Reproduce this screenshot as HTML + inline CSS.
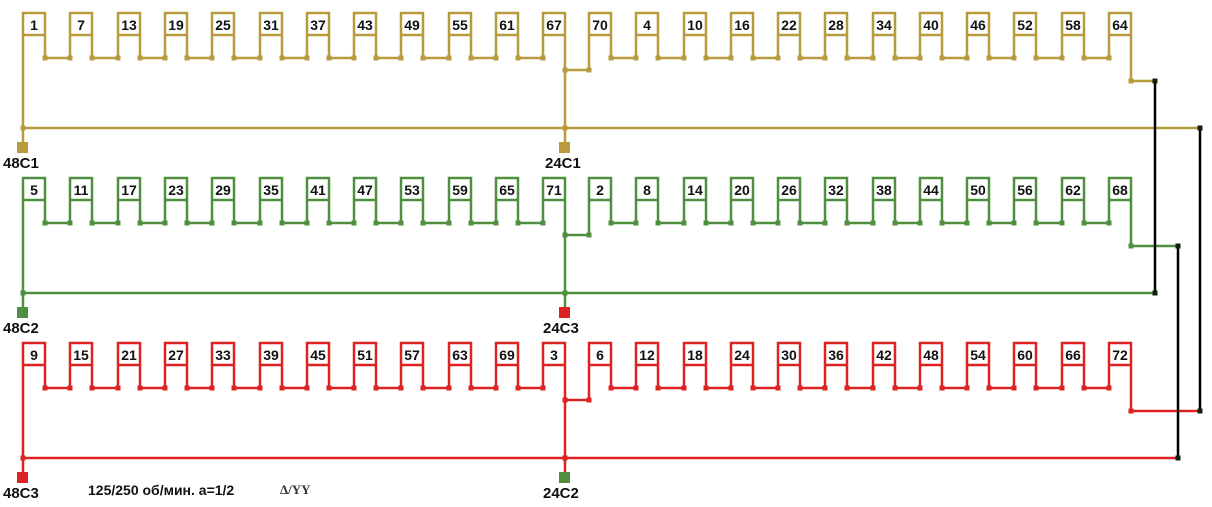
<!DOCTYPE html>
<html><head><meta charset="utf-8"><style>
html,body{margin:0;padding:0;background:#fff;width:1212px;height:507px;overflow:hidden}
svg{display:block}
text{font-family:"Liberation Sans",sans-serif;font-weight:bold}
</style></head><body>
<svg width="1212" height="507" viewBox="0 0 1212 507" xmlns="http://www.w3.org/2000/svg">
<defs>
<marker id="dg" markerUnits="userSpaceOnUse" markerWidth="5" markerHeight="5" refX="2.5" refY="2.5"><rect width="5" height="5" fill="#b89b3c"/></marker>
<marker id="dn" markerUnits="userSpaceOnUse" markerWidth="5" markerHeight="5" refX="2.5" refY="2.5"><rect width="5" height="5" fill="#4f8f3f"/></marker>
<marker id="dr" markerUnits="userSpaceOnUse" markerWidth="5" markerHeight="5" refX="2.5" refY="2.5"><rect width="5" height="5" fill="#dd2222"/></marker>
<marker id="dk" markerUnits="userSpaceOnUse" markerWidth="5" markerHeight="5" refX="2.5" refY="2.5"><rect width="5" height="5" fill="#102010"/></marker>
<g id="wind" fill="none" stroke-width="2.5">
<path d="M23 142 V13 H45 V58 H70 V13 H92 V58 H118 V13 H140 V58 H165 V13 H187 V58 H212 V13 H234 V58 H260 V13 H282 V58 H307 V13 H329 V58 H354 V13 H376 V58 H401 V13 H423 V58 H449 V13 H471 V58 H496 V13 H518 V58 H543 V13 H565 V142"/>
<path d="M565 70 H589 V13 H611 V58 H636 V13 H658 V58 H684 V13 H706 V58 H731 V13 H753 V58 H778 V13 H800 V58 H825 V13 H847 V58 H873 V13 H895 V58 H920 V13 H942 V58 H967 V13 H989 V58 H1014 V13 H1036 V58 H1062 V13 H1084 V58 H1109 V13 H1131 V81"/>
<path d="M23 35 H45 M70 35 H92 M118 35 H140 M165 35 H187 M212 35 H234 M260 35 H282 M307 35 H329 M354 35 H376 M401 35 H423 M449 35 H471 M496 35 H518 M543 35 H565 M589 35 H611 M636 35 H658 M684 35 H706 M731 35 H753 M778 35 H800 M825 35 H847 M873 35 H895 M920 35 H942 M967 35 H989 M1014 35 H1036 M1062 35 H1084 M1109 35 H1131"/>
</g>
<path id="dots" fill="none" stroke="none" d="M45 58 L70 58 L92 58 L118 58 L140 58 L165 58 L187 58 L212 58 L234 58 L260 58 L282 58 L307 58 L329 58 L354 58 L376 58 L401 58 L423 58 L449 58 L471 58 L496 58 L518 58 L543 58 M565 70 L589 70 M611 58 L636 58 L658 58 L684 58 L706 58 L731 58 L753 58 L778 58 L800 58 L825 58 L847 58 L873 58 L895 58 L920 58 L942 58 L967 58 L989 58 L1014 58 L1036 58 L1062 58 L1084 58 L1109 58 M1131 81 M23 128 M565 128"/>
</defs>

<g stroke="#b89b3c"><use href="#wind"/></g>
<use href="#dots" marker-start="url(#dg)" marker-mid="url(#dg)" marker-end="url(#dg)"/>
<g transform="translate(0,165)"><g stroke="#4f8f3f"><use href="#wind"/></g>
<use href="#dots" marker-start="url(#dn)" marker-mid="url(#dn)" marker-end="url(#dn)"/></g>
<g transform="translate(0,330)"><g stroke="#dd2222"><use href="#wind"/></g>
<use href="#dots" marker-start="url(#dr)" marker-mid="url(#dr)" marker-end="url(#dr)"/></g>

<g fill="none" stroke-width="2.5">
<path d="M23 128 H1200" stroke="#b89b3c"/>
<path d="M1131 81 H1155" stroke="#b89b3c"/>
<path d="M23 293 H1155" stroke="#4f8f3f"/>
<path d="M1131 246 H1178" stroke="#4f8f3f"/>
<path d="M23 458 H1178" stroke="#dd2222"/>
<path d="M1131 411 H1200" stroke="#dd2222"/>
<path d="M1155 81 V293 M1178 246 V458 M1200 128 V411" stroke="#000"/>
</g>
<path fill="none" stroke="none" d="M1155 81 M1155 293 M1178 246 M1178 458 M1200 128 M1200 411" marker-start="url(#dk)" marker-mid="url(#dk)" marker-end="url(#dk)"/>

<rect x="17" y="142" width="11" height="11" fill="#b89b3c"/>
<rect x="559" y="142" width="11" height="11" fill="#b89b3c"/>
<rect x="17" y="307" width="11" height="11" fill="#4f8f3f"/>
<rect x="559" y="307" width="11" height="11" fill="#dd2222"/>
<rect x="17" y="472" width="11" height="11" fill="#dd2222"/>
<rect x="559" y="472" width="11" height="11" fill="#4f8f3f"/>
<g font-size="15" fill="#111">
<text x="3" y="168">48C1</text><text x="545" y="168">24C1</text>
<text x="3" y="333">48C2</text><text x="543" y="333">24C3</text>
<text x="3" y="498">48C3</text><text x="543" y="498">24C2</text>
</g>
<text x="88" y="495" font-size="14" fill="#111">125/250 об/мин. а=1/2</text>
<text x="280" y="494" font-size="13" fill="#333" style="font-family:'Liberation Serif',serif">Δ/YY</text>

<g font-size="14" fill="#111" text-anchor="middle">
<g transform="translate(0,30)">
<text x="34">1</text><text x="81">7</text><text x="129">13</text><text x="176">19</text><text x="223">25</text><text x="271">31</text><text x="318">37</text><text x="365">43</text><text x="412">49</text><text x="460">55</text><text x="507">61</text><text x="554">67</text>
<text x="600">70</text><text x="647">4</text><text x="695">10</text><text x="742">16</text><text x="789">22</text><text x="836">28</text><text x="884">34</text><text x="931">40</text><text x="978">46</text><text x="1025">52</text><text x="1073">58</text><text x="1120">64</text>
</g>
<g transform="translate(0,195)">
<text x="34">5</text><text x="81">11</text><text x="129">17</text><text x="176">23</text><text x="223">29</text><text x="271">35</text><text x="318">41</text><text x="365">47</text><text x="412">53</text><text x="460">59</text><text x="507">65</text><text x="554">71</text>
<text x="600">2</text><text x="647">8</text><text x="695">14</text><text x="742">20</text><text x="789">26</text><text x="836">32</text><text x="884">38</text><text x="931">44</text><text x="978">50</text><text x="1025">56</text><text x="1073">62</text><text x="1120">68</text>
</g>
<g transform="translate(0,360)">
<text x="34">9</text><text x="81">15</text><text x="129">21</text><text x="176">27</text><text x="223">33</text><text x="271">39</text><text x="318">45</text><text x="365">51</text><text x="412">57</text><text x="460">63</text><text x="507">69</text><text x="554">3</text>
<text x="600">6</text><text x="647">12</text><text x="695">18</text><text x="742">24</text><text x="789">30</text><text x="836">36</text><text x="884">42</text><text x="931">48</text><text x="978">54</text><text x="1025">60</text><text x="1073">66</text><text x="1120">72</text>
</g>
</g>
</svg>
</body></html>
